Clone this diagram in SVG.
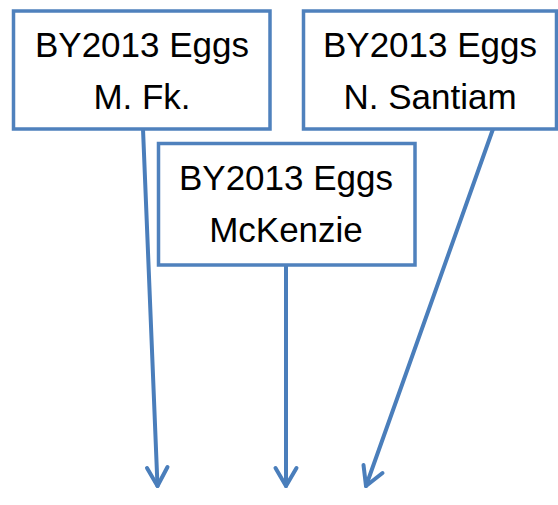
<svg xmlns="http://www.w3.org/2000/svg" width="558" height="505" viewBox="0 0 558 505">
<style>
.box{fill:#fff;stroke:#4F81BD;stroke-width:3.5}
.lbl{font-family:"Liberation Sans",Arial,sans-serif;font-size:35px;fill:#000;text-anchor:middle}
.conn{stroke:#4A7EBB;stroke-width:4;fill:none;stroke-linecap:round;stroke-linejoin:round}
</style>
<g id="connectors">
<path class="conn" d="M143 129 L157.5 486"/>
<path class="conn" d="M147 468 L157.5 486 L167.5 467"/>
<path class="conn" d="M286 265 L286 486"/>
<path class="conn" d="M275.5 468 L286 486 L296.5 468"/>
<path class="conn" d="M493 129 L366 486"/>
<path class="conn" d="M363.5 465 L366 486 L382.5 473"/>
</g>
<g id="node-mfk">
<rect class="box" x="13.5" y="11" width="256.5" height="118"/>
<text class="lbl" x="142" y="57">BY2013 Eggs</text>
<text class="lbl" x="142" y="108.5">M. Fk.</text>
</g>
<g id="node-nsantiam">
<rect class="box" x="303.5" y="11" width="253" height="118"/>
<text class="lbl" x="430" y="57">BY2013 Eggs</text>
<text class="lbl" x="430" y="108.5">N. Santiam</text>
</g>
<g id="node-mckenzie">
<rect class="box" x="158.5" y="143.5" width="256.5" height="121.5"/>
<text class="lbl" x="286" y="190">BY2013 Eggs</text>
<text class="lbl" x="286" y="241.5">McKenzie</text>
</g>
</svg>
